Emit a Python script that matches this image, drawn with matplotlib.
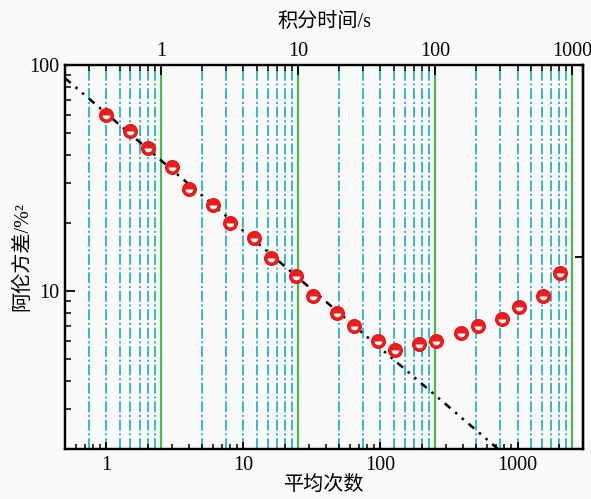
import matplotlib
matplotlib.use("Agg")
import matplotlib.pyplot as plt
import numpy as np
from matplotlib.ticker import LogLocator, NullFormatter, FixedLocator, FixedFormatter

plt.rcParams['font.family'] = ['Liberation Serif', 'Noto Sans CJK SC', 'DejaVu Sans']

# ---- data ----
avg_counts = [1, 1.5, 2, 3, 4, 6, 8, 12, 16, 24, 32, 48, 64, 96, 128, 192, 256, 384,
              512, 768, 1024, 1536, 2048]
allan_var = [60, 51.3, 43.1, 35.4, 28.4, 24.0, 20.0, 17.1, 14.0, 11.6, 9.5, 8.0, 7.0,
             6.0, 5.5, 5.8, 6.0, 6.5, 7.0, 7.5, 8.5, 9.5, 12.0]
fit_x = [0.5, 720]
fit_y = [87.5, 2.0]
time_per_count = 0.4  # seconds per average
x_range = [0.5, 3000]
y_range = [2, 100]
bottom_ticks = [1, 10, 100, 1000]
top_ticks = [1, 10, 100, 1000]
left_ticks = [10, 100]
right_tick = [14.1]

fig = plt.figure(figsize=(5.91, 4.99), dpi=100, facecolor='#fafafa')
ax = fig.add_axes([0.110, 0.1002, 0.8765, 0.7695])
ax2 = ax.twiny()

ax.set_xscale('log')
ax.set_yscale('log')
ax.set_xlim(*x_range)
ax.set_ylim(*y_range)
ax2.set_xscale('log')
ax2.set_xlim(x_range[0] * time_per_count, x_range[1] * time_per_count)

ax2.set_zorder(0)
ax.set_zorder(1)
ax.patch.set_visible(False)
ax2.patch.set_facecolor('#fcfcfc')

# grid on top-axis (integration time) positions
ax2.xaxis.set_major_locator(FixedLocator(top_ticks))
ax2.xaxis.set_major_formatter(FixedFormatter([str(t) for t in top_ticks]))
ax2.xaxis.set_minor_locator(LogLocator(base=10, subs=np.arange(2, 10)))
ax2.xaxis.set_minor_formatter(NullFormatter())
ax2.grid(which='minor', axis='x', color='#27b2c6', lw=1.3,
         linestyle=(0, (6, 1.5, 1.2, 1.5)))
ax2.grid(which='major', axis='x', color='#4cb84f', lw=1.6, linestyle='-')
ax2.tick_params(axis='x', which='major', direction='in', length=7, width=1.3,
                labelsize=14.5, pad=3)
ax2.tick_params(axis='x', which='minor', direction='in', length=4.5, width=1.1)
ax2.set_xlabel('积分时间/s', fontsize=14.5, labelpad=11)

# bottom axis
ax.xaxis.set_major_locator(FixedLocator(bottom_ticks))
ax.xaxis.set_major_formatter(FixedFormatter([str(t) for t in bottom_ticks]))
ax.xaxis.set_minor_locator(LogLocator(base=10, subs=np.arange(2, 10)))
ax.xaxis.set_minor_formatter(NullFormatter())
ax.tick_params(axis='x', which='major', direction='in', length=5, width=1.3,
               labelsize=14.5, pad=5)
ax.tick_params(axis='x', which='minor', direction='in', length=3.5, width=1.1)

# left axis
ax.yaxis.set_major_locator(FixedLocator(left_ticks))
ax.yaxis.set_major_formatter(FixedFormatter([str(t) for t in left_ticks]))
ax.yaxis.set_minor_locator(LogLocator(base=10, subs=np.arange(2, 10)))
ax.yaxis.set_minor_formatter(NullFormatter())
ax.tick_params(axis='y', which='major', direction='in', length=7, width=1.3,
               labelsize=14.5, pad=4, right=False)
ax.tick_params(axis='y', which='minor', direction='in', length=4, width=1.1,
               right=False)

sec = ax.secondary_yaxis('right')
sec.yaxis.set_major_locator(FixedLocator(right_tick))
sec.yaxis.set_major_formatter(NullFormatter())
sec.yaxis.set_minor_locator(FixedLocator([]))
sec.tick_params(axis='y', which='major', direction='in', length=6, width=1.3)
sec.spines['right'].set_linewidth(1.6)

for a in (ax, ax2):
    for s in a.spines.values():
        s.set_linewidth(1.6)
        s.set_color('black')

# fit line
ax.plot(fit_x, fit_y, color='black', lw=1.8,
        linestyle=(0, (3, 2.5, 1, 2.5, 1, 2.5)), zorder=3)

# markers: red ball with white highlight
ax.plot(avg_counts, allan_var, linestyle='none', marker='o', ms=10,
        mfc='#ee1c1c', mec='#e01818', mew=0.8, zorder=4)
ax.plot(avg_counts, allan_var, linestyle='none', marker='o', ms=5.5,
        fillstyle='bottom', mfc='white', mfcalt='none', mec='none', zorder=5)

ax.set_xlabel('平均次数', fontsize=14.5, labelpad=1)
ax.set_ylabel('阿伦方差/%²', fontsize=14.5, labelpad=-2)

fig.savefig('out.png', dpi=100, facecolor=fig.get_facecolor())
